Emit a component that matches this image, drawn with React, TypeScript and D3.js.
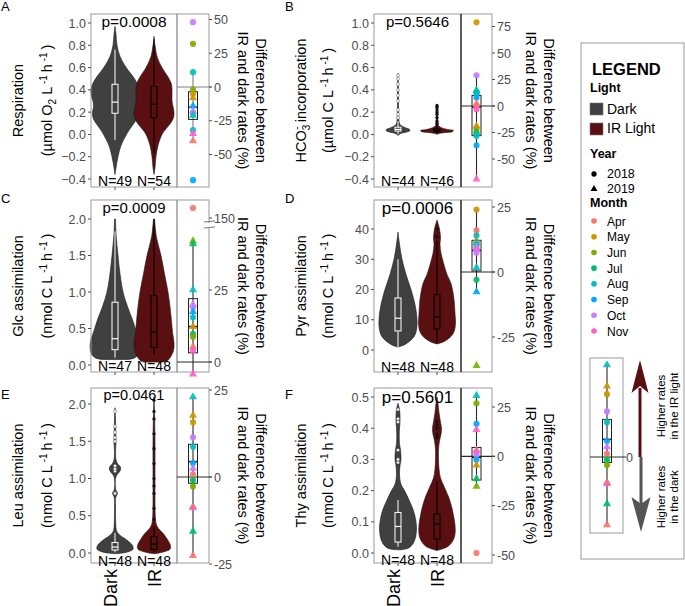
import React from "react";
import * as d3 from "d3";

type Prof = [number, number][];
type Diff = [number, number, number][];

// ---------------- data ----------------
const groups = ["Dark", "IR"];
const monthNames = ["Apr", "May", "Jun", "Jul", "Aug", "Sep", "Oct", "Nov"];
const monthColors = ["#F8766D", "#CD9600", "#7CAE00", "#00BE67", "#00BFC4", "#00A9FF", "#C77CFF", "#FF61CC"];
const yearLabels = [2018, 2019];
const panelLetters = ["A", "B", "C", "D", "E", "F"];
const pValues = ["0.0008", "0.5646", "0.0009", "0.0006", "0.0461", "0.5601"];
const nDark = [49, 44, 47, 48, 48, 48];
const nIR = [54, 46, 48, 48, 48, 48];

// violin profiles: [value, relative density]
const violinDarkA: Prof = [[0.97, 0], [0.9, 0.04], [0.8, 0.08], [0.7, 0.2], [0.6, 0.45], [0.5, 0.78], [0.45, 0.9], [0.4, 0.96], [0.35, 0.95], [0.3, 0.88], [0.25, 0.86], [0.2, 0.9], [0.15, 0.88], [0.1, 0.76], [0.05, 0.6], [0, 0.46], [-0.1, 0.24], [-0.2, 0.12], [-0.3, 0.04], [-0.36, 0]];
const violinIRA: Prof = [[0.86, 0], [0.8, 0.04], [0.7, 0.12], [0.6, 0.32], [0.5, 0.6], [0.45, 0.7], [0.4, 0.72], [0.35, 0.72], [0.3, 0.72], [0.25, 0.76], [0.2, 0.8], [0.15, 0.78], [0.1, 0.66], [0.05, 0.48], [0, 0.32], [-0.1, 0.16], [-0.2, 0.08], [-0.3, 0.04], [-0.36, 0]];
const violinDarkB: Prof = [[0.55, 0], [0.4, 0.02], [0.3, 0.02], [0.15, 0.03], [0.1, 0.06], [0.08, 0.12], [0.06, 0.3], [0.045, 0.46], [0.035, 0.48], [0.02, 0.32], [0.01, 0.12], [-0.01, 0]];
const violinIRB: Prof = [[0.27, 0], [0.2, 0.02], [0.15, 0.03], [0.08, 0.06], [0.06, 0.18], [0.045, 0.42], [0.035, 0.66], [0.025, 0.62], [0.015, 0.26], [0.005, 0.04], [0, 0]];
const violinDarkC: Prof = [[2.0, 0.02], [1.8, 0.04], [1.5, 0.12], [1.25, 0.2], [1.0, 0.32], [0.8, 0.5], [0.6, 0.72], [0.45, 0.86], [0.35, 0.96], [0.25, 1.0], [0.15, 0.94], [0.1, 0.8], [0.08, 0.6], [0.075, 0]];
const violinIRC: Prof = [[2.0, 0.02], [1.75, 0.1], [1.5, 0.28], [1.25, 0.42], [1.0, 0.56], [0.8, 0.64], [0.6, 0.7], [0.45, 0.74], [0.3, 0.8], [0.2, 0.78], [0.1, 0.64], [0.05, 0.5], [0.04, 0]];
const violinDarkD: Prof = [[39, 0], [35, 0.06], [30, 0.16], [25, 0.32], [20, 0.52], [15, 0.68], [12, 0.74], [10, 0.76], [8, 0.76], [5, 0.68], [3, 0.48], [1.5, 0.2], [1, 0]];
const violinIRD: Prof = [[43, 0], [40, 0.1], [37, 0.14], [35, 0.12], [32, 0.16], [30, 0.22], [25, 0.4], [22, 0.56], [18, 0.66], [15, 0.7], [12, 0.72], [9, 0.74], [6, 0.68], [4, 0.5], [2.5, 0.2], [2, 0]];
const violinDarkE: Prof = [[1.95, 0], [1.8, 0.02], [1.6, 0.03], [1.5, 0.04], [1.35, 0.02], [1.25, 0.04], [1.2, 0.1], [1.15, 0.22], [1.1, 0.2], [1.05, 0.08], [1.0, 0.02], [0.85, 0.03], [0.8, 0.1], [0.75, 0.03], [0.6, 0.02], [0.4, 0.03], [0.3, 0.06], [0.25, 0.16], [0.2, 0.36], [0.15, 0.56], [0.1, 0.7], [0.05, 0.72], [0.02, 0.56], [0, 0.3], [-0.01, 0]];
const violinIRE: Prof = [[2.1, 0], [1.9, 0.02], [1.5, 0.04], [1.0, 0.04], [0.7, 0.04], [0.5, 0.05], [0.4, 0.08], [0.35, 0.14], [0.3, 0.26], [0.25, 0.4], [0.2, 0.5], [0.1, 0.66], [0.05, 0.64], [0.02, 0.44], [0, 0.2], [-0.01, 0]];
const violinDarkF: Prof = [[0.48, 0], [0.46, 0.06], [0.44, 0.08], [0.42, 0.08], [0.4, 0.06], [0.38, 0.05], [0.35, 0.06], [0.33, 0.1], [0.3, 0.12], [0.28, 0.08], [0.25, 0.06], [0.22, 0.12], [0.2, 0.26], [0.17, 0.44], [0.14, 0.6], [0.11, 0.7], [0.08, 0.74], [0.05, 0.7], [0.03, 0.6], [0.015, 0.4], [0.01, 0]];
const violinIRF: Prof = [[0.5, 0], [0.48, 0.04], [0.45, 0.08], [0.42, 0.14], [0.4, 0.18], [0.38, 0.16], [0.36, 0.1], [0.33, 0.06], [0.3, 0.06], [0.27, 0.08], [0.24, 0.14], [0.21, 0.3], [0.18, 0.46], [0.15, 0.58], [0.12, 0.66], [0.09, 0.72], [0.06, 0.72], [0.04, 0.64], [0.02, 0.42], [0.008, 0]];

// box stats: [lower whisker, q1, median, q3, upper whisker]
const boxDarkA = [-0.05, 0.19, 0.29, 0.45, 0.76];
const boxIRA = [-0.17, 0.15, 0.27, 0.43, 0.88];
const boxDarkB = [0.0, 0.03, 0.045, 0.065, 0.12];
const boxIRB = [0.005, 0.025, 0.035, 0.05, 0.09];
const boxDarkC = [0.1, 0.21, 0.36, 0.86, 1.83];
const boxIRC = [0.14, 0.24, 0.45, 0.95, 2.0];
const boxDarkD = [1, 6.3, 10.5, 17.2, 30];
const boxIRD = [2.5, 7, 11, 18.3, 36];
const boxDarkE = [0.01, 0.04, 0.08, 0.14, 0.27];
const boxIRE = [0.01, 0.05, 0.12, 0.22, 0.36];
const boxDarkF = [0.02, 0.035, 0.085, 0.13, 0.17];
const boxIRF = [0.01, 0.045, 0.093, 0.125, 0.23];

// outliers
const outDarkB = [0.15, 0.18, 0.22, 0.3, 0.35, 0.4, 0.45, 0.5, 0.53];
const outIRB = [0.1, 0.12, 0.15, 0.18, 0.2, 0.22, 0.24, 0.25, 0.26];
const outIRD = [37.5, 40];
const outDarkE = [0.8, 1.1, 1.13, 1.17, 1.5, 1.55, 1.62, 1.7, 1.9];
const outIRE = [0.45, 0.6, 0.8, 0.9, 1.0, 1.2, 1.4, 1.6, 1.8, 1.9, 2.05];
const outDarkF = [0.29, 0.3, 0.33, 0.42, 0.43, 0.46];
const outIRF = [0.37, 0.38, 0.4, 0.41, 0.42];

// difference points: [month index, year, % difference]
const diffA: Diff = [[6, 2018, 48], [2, 2018, 32], [4, 2018, 11], [2, 2018, -2], [1, 2018, -5], [1, 2019, -8], [5, 2019, -14], [3, 2018, -19], [6, 2019, -18], [4, 2019, -21], [4, 2018, -32], [7, 2019, -34.5], [0, 2019, -40], [5, 2018, -69]];
const diffB: Diff = [[1, 2018, 79], [6, 2018, 29], [4, 2019, 15], [3, 2018, 13], [4, 2018, 12], [5, 2018, 8], [0, 2019, 2], [0, 2018, 0], [7, 2018, -3], [1, 2019, -19], [1, 2018, -21], [2, 2018, -24], [3, 2019, -25], [4, 2018, -28], [5, 2018, -37], [7, 2019, -69]];
const diffC: Diff = [[0, 2018, 160], [2, 2019, 42], [3, 2019, 41], [4, 2019, 25], [6, 2019, 20], [6, 2018, 19], [5, 2019, 17.5], [4, 2018, 15.5], [1, 2019, 12.3], [3, 2018, 9.7], [2, 2018, 8.8], [0, 2019, 5.3], [7, 2018, 4], [7, 2019, -4.2]];
const diffD: Diff = [[1, 2018, 24], [0, 2018, 16], [4, 2018, 14], [1, 2019, 12], [3, 2018, 10], [4, 2019, 11.3], [6, 2019, 9.6], [7, 2019, 8.7], [6, 2018, 7.4], [4, 2019, 1.7], [3, 2018, -3], [5, 2019, -7.7], [2, 2019, -36]];
const diffE: Diff = [[4, 2019, 23], [1, 2019, 17.7], [1, 2018, 15.7], [6, 2018, 11.4], [4, 2018, 8.7], [5, 2018, 4], [6, 2019, 2.5], [0, 2018, 0.8], [3, 2018, -0.9], [2, 2018, -2.7], [1, 2019, -8.5], [7, 2019, -8.9], [3, 2019, -15.6], [0, 2019, -22.6]];
const diffF: Diff = [[4, 2019, 30.8], [2, 2018, 26.9], [5, 2018, 16.5], [7, 2019, 13.5], [0, 2019, 3], [7, 2018, 2], [6, 2018, 0.5], [5, 2018, -1.7], [1, 2019, -4.5], [3, 2019, -11.3], [2, 2019, -15.2], [0, 2018, -49]];
const diffBoxA = [-40, -24, -15, -3.5, 11];
const diffBoxB = [-69, -28, -1, 10, 29];
const diffBoxC = [-4.2, 3.2, 12.3, 22, 42];
const diffBoxD = [-7.7, 0.4, 8.3, 12.2, 24];
const diffBoxE = [-22.6, -1.8, 4.4, 9.4, 23];
const diffBoxF = [-15.2, -12, -0.5, 4.5, 30.8];

// tick values
const ticksAB = [-0.4, -0.2, 0, 0.2, 0.4, 0.6, 0.8, 1.0];
const ticksCE = [0, 0.5, 1.0, 1.5, 2.0];
const ticksD = [0, 10, 20, 30, 40];
const ticksF = [0, 0.1, 0.2, 0.3, 0.4, 0.5];
const rTicksA = [-50, -25, 0, 25, 50];
const rTicksB = [-50, -25, 0, 25, 50, 75];
const rTicksC = [0, 25];
const rTicksCUpper = [150];
const rTicksDE = [-25, 0, 25];
const rTicksF = [-50, -25, 0, 25];

// ---------------- layout / style ----------------
const FONT = "'Liberation Sans', Arial, Helvetica, sans-serif";
const FILLS = ["#404040", "#5a1010"];
const BOX_STROKE = ["#ffffff", "#000000"];
const GREY_TXT = "#4d4d4d";
const FRAME = "#9a9a9a";
const XLABEL_SHIFT = [2, 7];

const COLS = [
  { frameL: 91, mid: 177, frameR: 209, cx: [115, 154], t1: 18, t2: 47, rt1: 261, rt2: 243, letterX: 1 },
  { frameL: 374, mid: 461, frameR: 492, cx: [398, 437], t1: 301, t2: 328, rt1: 549, rt2: 531, letterX: 285 },
];
const ROWS = [
  { top: 14, bottom: 187, letterY: 11 },
  { top: 200, bottom: 372, letterY: 203 },
  { top: 388, bottom: 563, letterY: 399 },
];

const sup = (s: string) => [
  <tspan key="a" dy={-5} fontSize={10}>{s}</tspan>,
  <tspan key="b" dy={5}>{"\u2009"}</tspan>,
];
const unitLine = (pre: string) => (
  <>
    {"(" + pre + " L"}
    {sup(" -1")}
    {"h"}
    {sup(" -1")}
    {")"}
  </>
);
const unitLineO2 = (
  <>
    {"(µmol O"}
    <tspan dy={4} fontSize={10}>2</tspan>
    <tspan dy={-4}>{"  L"}</tspan>
    {sup(" -1")}
    {"h"}
    {sup(" -1")}
    {")"}
  </>
);
const hco3 = (
  <>
    {"HCO"}
    <tspan dy={4} fontSize={10}>3</tspan>
    <tspan dy={-10} dx={-5} fontSize={10}>-</tspan>
    <tspan dy={6}>{" incorporation"}</tspan>
  </>
);

const panels = [
  { col: 0, row: 0, yDomain: [-0.4, 1.0], yRange: [179, 23], yTicks: ticksAB, fmt: ".1f", rDomain: [-50, 50], rRange: [154.5, 19.5], rTicks: rTicksA,
    vio: [violinDarkA, violinIRA], box: [boxDarkA, boxIRA], out: [[], []], diff: diffA, dbox: diffBoxA, pSize: 15.5, pY: 27, nY: 186, grayLines: true, darkDiv: false,
    title1: <>Respiration</>, title2: unitLineO2 },
  { col: 1, row: 0, yDomain: [-0.4, 1.0], yRange: [179, 23], yTicks: ticksAB, fmt: ".1f", rDomain: [-50, 75], rRange: [159, 26.5], rTicks: rTicksB,
    vio: [violinDarkB, violinIRB], box: [boxDarkB, boxIRB], out: [outDarkB, outIRB], diff: diffB, dbox: diffBoxB, pSize: 15, pY: 27, nY: 186, grayLines: false, darkDiv: true,
    title1: hco3, title2: unitLine("µmol C") },
  { col: 0, row: 1, yDomain: [0, 2], yRange: [365, 219], yTicks: ticksCE, fmt: ".1f", rDomain: [0, 25], rRange: [362, 290], rTicks: rTicksC,
    upper: { domain: [140, 170], range: [228, 198], ticks: rTicksCUpper, breakAt: 100 },
    vio: [violinDarkC, violinIRC], box: [boxDarkC, boxIRC], out: [[], []], diff: diffC, dbox: diffBoxC, pSize: 15, pY: 213, nY: 371, grayLines: false, darkDiv: false,
    title1: <>Glc assimilation</>, title2: unitLine("nmol C") },
  { col: 1, row: 1, yDomain: [0, 40], yRange: [350, 229], yTicks: ticksD, fmt: "d", rDomain: [-25, 25], rRange: [337, 207], rTicks: rTicksDE,
    vio: [violinDarkD, violinIRD], box: [boxDarkD, boxIRD], out: [[], outIRD], diff: diffD, dbox: diffBoxD, pSize: 17, pY: 214, nY: 372, grayLines: false, darkDiv: true,
    title1: <>Pyr assimilation</>, title2: unitLine("nmol C") },
  { col: 0, row: 2, yDomain: [0, 2], yRange: [553, 404], yTicks: ticksCE, fmt: ".1f", rDomain: [-25, 25], rRange: [564, 390], rTicks: rTicksDE,
    vio: [violinDarkE, violinIRE], box: [boxDarkE, boxIRE], out: [outDarkE, outIRE], diff: diffE, dbox: diffBoxE, pSize: 14.5, pY: 400, nY: 566, grayLines: false, darkDiv: false,
    title1: <>Leu assimilation</>, title2: unitLine("nmol C") },
  { col: 1, row: 2, yDomain: [0, 0.5], yRange: [553, 397], yTicks: ticksF, fmt: ".1f", rDomain: [-50, 25], rRange: [555, 407], rTicks: rTicksF,
    vio: [violinDarkF, violinIRF], box: [boxDarkF, boxIRF], out: [outDarkF, outIRF], diff: diffF, dbox: diffBoxF, pSize: 17, pY: 403, nY: 565, grayLines: false, darkDiv: true,
    title1: <>Thy assimilation</>, title2: unitLine("nmol C") },
];

const symbolPath = (year: number, size = 30) =>
  d3.symbol().type(year === 2018 ? d3.symbolCircle : d3.symbolTriangle).size(year === 2018 ? size : size * 0.95)() as string;

function DiffGlyphs({ data, box, scale, cx, lineColor, bw = 9 }: any) {
  return (
    <g>
      <line x1={cx} x2={cx} y1={scale(box[0])} y2={scale(box[4])} stroke={lineColor} strokeWidth={1.1} />
      <rect x={cx - bw / 2} width={bw} y={scale(box[3])} height={scale(box[1]) - scale(box[3])} fill="none" stroke="#222" strokeWidth={1} />
      <line x1={cx - bw / 2} x2={cx + bw / 2} y1={scale(box[2])} y2={scale(box[2])} stroke="#222" strokeWidth={1.6} />
      {data.map((d: number[], i: number) => (
        <path key={i} d={symbolPath(d[1])} transform={`translate(${cx},${scale(d[2])})`} fill={monthColors[d[0]]} opacity={0.92} />
      ))}
    </g>
  );
}

function Panel({ cfg, idx }: { cfg: any; idx: number }) {
  const col = COLS[cfg.col];
  const row = ROWS[cfg.row];
  const y = d3.scaleLinear().domain(cfg.yDomain).range(cfg.yRange);
  const r = d3.scaleLinear().domain(cfg.rDomain).range(cfg.rRange);
  const rUp = cfg.upper ? d3.scaleLinear().domain(cfg.upper.domain).range(cfg.upper.range) : null;
  const rv = (v: number) => (rUp && v > cfg.upper.breakAt ? rUp(v) : r(v));
  const w = d3.scaleLinear().domain([0, 1]).range([0, 25]);
  const fmt = d3.format(cfg.fmt);
  const cxR = (col.mid + col.frameR) / 2;
  const midY = (row.top + row.bottom) / 2;
  const lineColor = cfg.grayLines ? "#808080" : "#2a2a2a";

  return (
    <g fontFamily={FONT}>
      <text x={col.letterX} y={row.letterY} fontSize={13}>{panelLetters[idx]}</text>
      {groups.map((g, gi) => {
        const cx = col.cx[gi];
        const area = d3
          .area<[number, number]>()
          .y((d) => y(d[0]))
          .x0((d) => cx - w(d[1]))
          .x1((d) => cx + w(d[1]))
          .curve(d3.curveCatmullRom.alpha(0.5));
        const b = cfg.box[gi];
        const sc = BOX_STROKE[gi];
        return (
          <g key={g}>
            <path d={area(cfg.vio[gi]) as string} fill={FILLS[gi]} stroke="#1a1a1a" strokeWidth={0.6} />
            <line x1={cx} x2={cx} y1={y(b[0])} y2={y(b[4])} stroke={sc} strokeWidth={1} />
            <rect x={cx - 3} width={6} y={y(b[3])} height={y(b[1]) - y(b[3])} fill={FILLS[gi]} stroke={sc} strokeWidth={1} />
            <line x1={cx - 3} x2={cx + 3} y1={y(b[2])} y2={y(b[2])} stroke={sc} strokeWidth={1.2} />
            {cfg.out[gi].map((v: number, i: number) => (
              <circle key={i} cx={cx} cy={y(v)} r={1.6} fill={gi === 0 ? "#f2f2f2" : "#111"} stroke={gi === 0 ? "#555" : "none"} strokeWidth={0.4} />
            ))}
          </g>
        );
      })}
      <rect x={col.frameL} y={row.top} width={col.mid - col.frameL} height={row.bottom - row.top} fill="none" stroke={FRAME} strokeWidth={1} />
      <rect x={col.mid} y={row.top} width={col.frameR - col.mid} height={row.bottom - row.top} fill="none" stroke={FRAME} strokeWidth={1} />
      {cfg.darkDiv && <line x1={col.mid} x2={col.mid} y1={row.top} y2={row.bottom} stroke="#222" strokeWidth={1.2} />}
      {cfg.yTicks.map((t: number) => (
        <g key={t}>
          <line x1={col.frameL - 3} x2={col.frameL} y1={y(t)} y2={y(t)} stroke={GREY_TXT} />
          <text x={col.frameL - 5} y={y(t) + 4.5} textAnchor="end" fontSize={12.5} fill={GREY_TXT}>{fmt(t)}</text>
        </g>
      ))}
      {groups.map((g, gi) => (
        <line key={g} x1={col.cx[gi]} x2={col.cx[gi]} y1={row.bottom} y2={row.bottom + 3} stroke={GREY_TXT} />
      ))}
      <line x1={col.mid} x2={col.frameR + 3} y1={r(0)} y2={r(0)} stroke={lineColor} strokeWidth={1.1} />
      {cfg.rTicks.map((t: number) => (
        <g key={t}>
          <line x1={col.frameR} x2={col.frameR + 3} y1={r(t)} y2={r(t)} stroke={GREY_TXT} />
          <text x={col.frameR + 5} y={r(t) + 4.5} fontSize={12.5} fill={GREY_TXT}>{t}</text>
        </g>
      ))}
      {cfg.upper && rUp && (
        <g>
          {cfg.upper.ticks.map((t: number) => (
            <g key={t}>
              <line x1={col.frameR} x2={col.frameR + 3} y1={rUp(t)} y2={rUp(t)} stroke={GREY_TXT} />
              <text x={col.frameR + 5} y={rUp(t) + 4.5} fontSize={12.5} fill={GREY_TXT}>{t}</text>
            </g>
          ))}
          <rect x={col.frameR - 2} y={rUp(146) + 1} width={4} height={5} fill="#fff" />
          <line x1={col.frameR - 5} x2={col.frameR + 6} y1={rUp(146)} y2={rUp(146) - 1} stroke="#777" />
          <line x1={col.frameR - 5} x2={col.frameR + 6} y1={rUp(146) + 6} y2={rUp(146) + 5} stroke="#777" />
        </g>
      )}
      <DiffGlyphs data={cfg.diff} box={cfg.dbox} scale={rv} cx={cxR} lineColor={lineColor} />
      <text x={(col.frameL + col.mid) / 2} y={cfg.pY} textAnchor="middle" fontSize={cfg.pSize}>{"p=" + pValues[idx]}</text>
      <text x={col.cx[0]} y={cfg.nY} textAnchor="middle" fontSize={14}>{"N=" + nDark[idx]}</text>
      <text x={col.cx[1]} y={cfg.nY} textAnchor="middle" fontSize={14}>{"N=" + nIR[idx]}</text>
      <text transform={`translate(${col.t1 + 5},${midY}) rotate(-90)`} textAnchor="middle" fontSize={14.5}>{cfg.title1}</text>
      <text transform={`translate(${col.t2 + 5},${midY}) rotate(-90)`} textAnchor="middle" fontSize={14.5}>{cfg.title2}</text>
      <text transform={`translate(${col.rt1 - 5},${midY}) rotate(90)`} textAnchor="middle" fontSize={14.5}>Difference between</text>
      <text transform={`translate(${col.rt2 - 5},${midY}) rotate(90)`} textAnchor="middle" fontSize={14.5}>IR and dark rates (%)</text>
      {cfg.row === 2 &&
        groups.map((g, gi) => (
          <text key={g} transform={`translate(${col.cx[gi] + XLABEL_SHIFT[gi]},569) rotate(-90)`} textAnchor="end" fontSize={18}>{g}</text>
        ))}
    </g>
  );
}

function Legend() {
  const lscale = d3.scaleLinear().domain([-23, 0, 23]).range([526, 457, 365]);
  const monthY = d3.scaleLinear().domain([0, monthNames.length - 1]).range([221, 331]);
  return (
    <g fontFamily={FONT}>
      <rect x={581} y={43} width={103} height={516} fill="none" stroke={FRAME} />
      <text x={592} y={75} fontSize={16.5} fontWeight="bold">LEGEND</text>
      <text x={590} y={92} fontSize={12.5} fontWeight="bold">Light</text>
      {["Dark", "IR Light"].map((t, i) => (
        <g key={t}>
          <rect x={590} y={103 + i * 20} width={13} height={12} fill={FILLS[i]} stroke="#777" strokeWidth={0.6} />
          <text x={607} y={114 + i * 19} fontSize={14}>{t}</text>
        </g>
      ))}
      <text x={590} y={158} fontSize={12.5} fontWeight="bold">Year</text>
      {yearLabels.map((yr, i) => (
        <g key={yr}>
          <path d={symbolPath(yr, 22)} transform={`translate(594,${174 + i * 15})`} fill="#000" />
          <text x={607} y={178 + i * 15} fontSize={12.5}>{yr}</text>
        </g>
      ))}
      <text x={590} y={207} fontSize={12.5} fontWeight="bold">Month</text>
      {monthNames.map((m, i) => (
        <g key={m}>
          <circle cx={594} cy={monthY(i)} r={2.8} fill={monthColors[i]} />
          <text x={607} y={monthY(i) + 4.5} fontSize={12}>{m}</text>
        </g>
      ))}
      <rect x={590} y={358} width={33} height={175} fill="none" stroke={FRAME} />
      <line x1={590} x2={626} y1={lscale(0)} y2={lscale(0)} stroke="#2a2a2a" strokeWidth={1.1} />
      <text x={626} y={lscale(0) + 4.5} fontSize={12.5} fill={GREY_TXT}>0</text>
      <DiffGlyphs data={diffE} box={diffBoxE} scale={lscale} cx={607} lineColor="#2a2a2a" />
      <line x1={640} x2={640} y1={lscale(0)} y2={388} stroke="#5a1010" strokeWidth={3} />
      <path d="M640,360 L648.5,393 L640,386 L631.5,393 Z" fill="#5a1010" />
      <line x1={641} x2={641} y1={lscale(0)} y2={505} stroke="#555" strokeWidth={3} />
      <path d="M641,532 L650.5,497 L641,504 L631.5,497 Z" fill="#555" />
      <text transform="translate(665,406) rotate(-90)" textAnchor="middle" fontSize={11.5}>Higher rates</text>
      <text transform="translate(678,406) rotate(-90)" textAnchor="middle" fontSize={11.5}>in the IR light</text>
      <text transform="translate(665,497) rotate(-90)" textAnchor="middle" fontSize={11.5}>Higher rates</text>
      <text transform="translate(678,497) rotate(-90)" textAnchor="middle" fontSize={11.5}>in the dark</text>
    </g>
  );
}

export default function App() {
  return (
    <svg width={685} height={606} style={{ position: "absolute", left: 0, top: 0, background: "#fff" }}>
      <rect width={685} height={606} fill="#fff" />
      {panels.map((p, i) => (
        <Panel key={i} cfg={p} idx={i} />
      ))}
      <Legend />
    </svg>
  );
}
